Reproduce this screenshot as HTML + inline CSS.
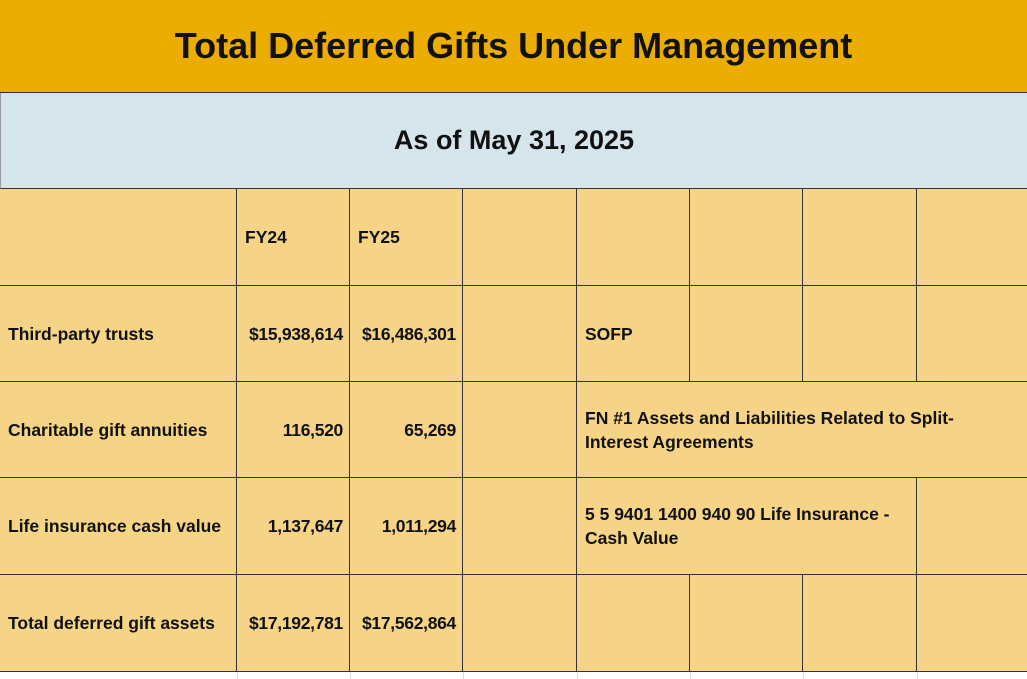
<!DOCTYPE html>
<html><head><style>
body{margin:0;width:1027px;height:679px;overflow:hidden;background:#fff;font-family:"Liberation Sans",sans-serif;font-weight:bold;color:#111;position:relative}
.a{position:absolute;box-sizing:border-box}
.c{position:absolute;box-sizing:border-box;background:#F5D487;border-right:1px solid #333;border-bottom:1px solid #333;font-size:17.5px;display:flex;align-items:center;padding:0 8px;line-height:24px;white-space:nowrap}
.r{justify-content:flex-end;padding-right:6px;letter-spacing:-0.3px}
.g{position:absolute;top:672px;height:7px;border-left:1px solid #ddd}
</style></head><body>
<div class="a" style="left:0;top:0;width:1027px;height:93px;background:#EAAD00;border-bottom:1px solid #333;display:flex;align-items:center;justify-content:center;font-size:36px">Total Deferred Gifts Under Management</div>
<div class="a" style="left:0;top:93px;width:1027px;height:96px;background:#D6E4EC;border-bottom:1px solid #333;border-left:1px solid #999;display:flex;align-items:center;justify-content:center;font-size:27px">As of May 31, 2025</div>
<div id="t"></div>
<script>
const cols=[0,237,350,463,577,690,803,917,1028];
const rows=[189,286,382,478,575,672];
const data=[
["","FY24","FY25","","","","",""],
["Third-party trusts","$15,938,614","$16,486,301","","SOFP","","",""],
["Charitable gift annuities","116,520","65,269","",null],
["Life insurance cash value","1,137,647","1,011,294","",null],
["Total deferred gift assets","$17,192,781","$17,562,864","","","","",""]];
let h="";
for(let r=0;r<5;r++){
 const top=rows[r],ht=rows[r+1]-rows[r];
 for(let c=0;c<8;c++){
  let v=data[r][c];
  if(v===null){
   let end=r==2?8:7;
   let txt=r==2?"FN #1 Assets and Liabilities Related to Split-<br>Interest Agreements":"5 5 9401 1400 940 90 Life Insurance -<br>Cash Value";
   h+=`<div class="c" style="left:${cols[4]}px;top:${top}px;width:${cols[end]-cols[4]}px;height:${ht}px">${txt}</div>`;
   if(r==3)h+=`<div class="c" style="left:${cols[7]}px;top:${top}px;width:${cols[8]-cols[7]}px;height:${ht}px"></div>`;
   break;
  }
  let cls="c"+((r>0&&(c==1||c==2))?" r":"");
  h+=`<div class="${cls}" style="left:${cols[c]}px;top:${top}px;width:${cols[c+1]-cols[c]}px;height:${ht}px">${v}</div>`;
 }
}
for(let c=1;c<8;c++)h+=`<div class="g" style="left:${cols[c]}px"></div>`;
document.getElementById("t").innerHTML=h;
</script>
</body></html>
